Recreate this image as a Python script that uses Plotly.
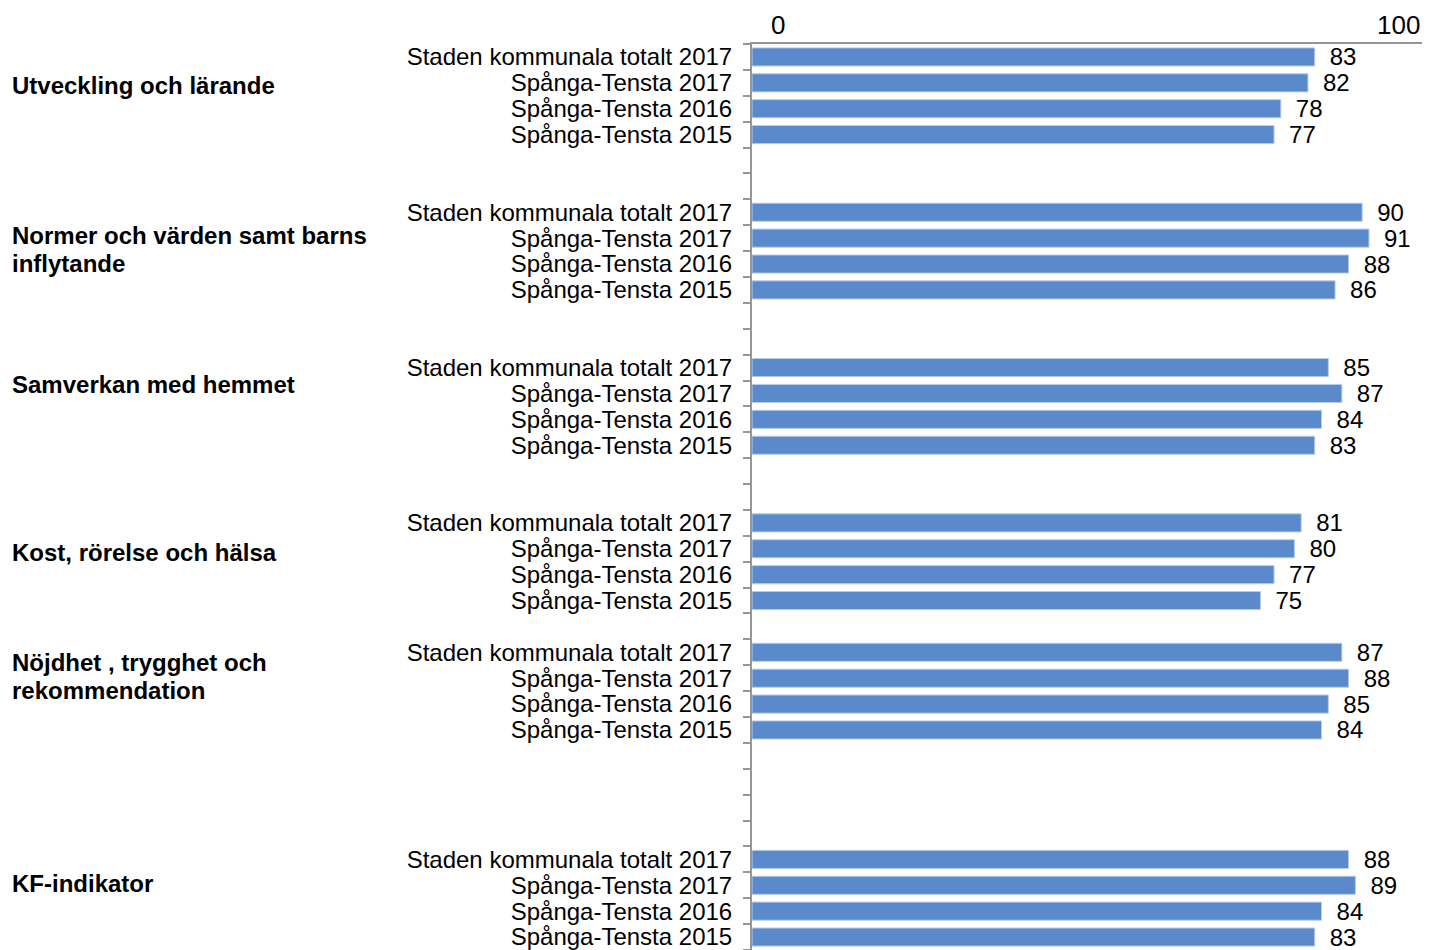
import plotly.graph_objects as go

# categories and values
areas = [
    "Utveckling och lärande",
    "Normer och värden samt barns<br>inflytande",
    "Samverkan med hemmet",
    "Kost, rörelse och hälsa",
    "Nöjdhet , trygghet och<br>rekommendation",
    "KF-indikator",
]
series = [
    "Staden kommunala totalt 2017",
    "Spånga-Tensta 2017",
    "Spånga-Tensta 2016",
    "Spånga-Tensta 2015",
]
utveckling = [83, 82, 78, 77]
normer = [90, 91, 88, 86]
samverkan = [85, 87, 84, 83]
kost = [81, 80, 77, 75]
nojdhet = [87, 88, 85, 84]
kf_indikator = [88, 89, 84, 83]
values = [utveckling, normer, samverkan, kost, nojdhet, kf_indikator]

# layout: empty category slots before each block, and where the bold label sits
gap_before = [0, 2, 2, 2, 1, 4]
label_offset = [1.1, 1.45, 0.65, 1.15, 0.95, 0.95]

BAR = "#5A8ACB"
AXIS = "#969696"
FONT = "Liberation Sans, Arial, sans-serif"

# the page body has an 8px margin, so the figure is offset by 8px
W, H = 1422, 942
LEFT, TOP = 744, 36
PLOT_W = W - LEFT
LINE_H = 28

ys, xs, names = [], [], []
group_pos = []
pos = 0
for gap, vals in zip(gap_before, values):
    pos += gap
    group_pos.append(pos)
    for i, v in enumerate(vals):
        ys.append(pos + i)
        xs.append(v)
        names.append(series[i])
    pos += len(vals)
n_slots = pos

fig = go.Figure()
fig.add_trace(go.Bar(
    x=xs, y=ys, orientation="h",
    marker=dict(color=BAR, line=dict(color="#B9CDE9", width=1)),
    text=xs, texttemplate="\u2002%{x}", textposition="outside",
    constraintext="none",
    textfont=dict(family=FONT, size=24, color="black"),
    cliponaxis=False, showlegend=False,
))

annotations = []
for name, gp, off in zip(areas, group_pos, label_offset):
    lines = name.split("<br>")
    for j, line in enumerate(lines):
        annotations.append(dict(
            text=f"<b>{line}</b>", xref="paper", yref="y",
            x=(2 - LEFT) / PLOT_W, y=gp + off,
            yshift=-(j - (len(lines) - 1) / 2) * LINE_H,
            xanchor="left", yanchor="middle", align="left", showarrow=False,
            font=dict(family=FONT, size=24, color="black"),
        ))
# top axis labels
annotations.append(dict(text="0", xref="x", yref="paper", x=0, y=1, xshift=26, yshift=TOP,
                        yanchor="top", showarrow=False,
                        font=dict(family=FONT, size=26, color="black")))
annotations.append(dict(text="100", xref="x", yref="paper", x=100, y=1, xshift=-8, yshift=TOP,
                        xanchor="right", yanchor="top", showarrow=False,
                        font=dict(family=FONT, size=26, color="black")))

fig.update_layout(
    width=W, height=H,
    margin=dict(l=LEFT, r=0, t=TOP, b=0),
    plot_bgcolor="white", paper_bgcolor="white",
    bargap=0.3,
    annotations=annotations,
    font=dict(family=FONT, size=24, color="black"),
)
fig.update_xaxes(
    range=[0, 100], side="top", showgrid=False, zeroline=False,
    showticklabels=False, ticks="",
    showline=True, linecolor=AXIS, linewidth=2,
)
fig.update_yaxes(
    range=[n_slots - 0.5, -0.5], showgrid=False, zeroline=False,
    tickmode="array", tickvals=ys, ticktext=names, ticks="",
    ticklabelstandoff=13, ticklabeloverflow="allow",
    tickfont=dict(family=FONT, size=24, color="black"),
    showline=True, linecolor=AXIS, linewidth=2,
    minor=dict(tickmode="array", tickvals=[k - 0.5 for k in range(n_slots + 1)],
               ticks="outside", ticklen=7, tickwidth=1.5, tickcolor=AXIS, showgrid=False),
)

fig.write_html("out.html")
